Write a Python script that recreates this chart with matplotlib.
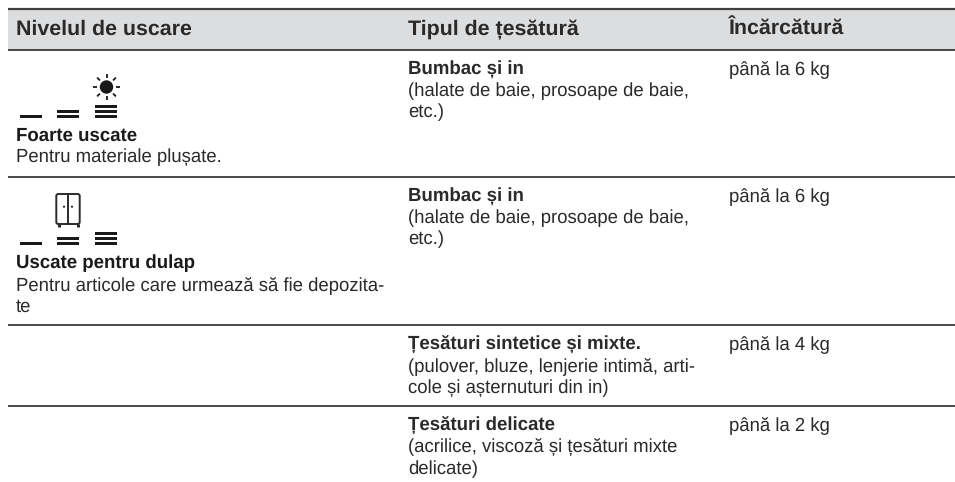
import matplotlib
matplotlib.use("Agg")
import matplotlib.pyplot as plt
from matplotlib.patches import Rectangle, Circle, FancyBboxPatch
import math

plt.rcParams['font.family'] = ['Liberation Sans', 'DejaVu Sans']
plt.rcParams['text.hinting'] = 'none'

headers = ["Nivelul de uscare", "Tipul de țesătură", "Încărcătură"]
level_titles = ["Foarte uscate", "Uscate pentru dulap"]
level_notes = [["Pentru materiale plușate."],
               ["Pentru articole care urmează să fie depozita-", "te"]]
fabric_titles = ["Bumbac și in", "Bumbac și in", "Țesături sintetice și mixte.", "Țesături delicate"]
fabric_notes = [["(halate de baie, prosoape de baie,", "etc.)"],
                ["(halate de baie, prosoape de baie,", "etc.)"],
                ["(pulover, bluze, lenjerie intimă, arti-", "cole și așternuturi din in)"],
                ["(acrilice, viscoză și țesături mixte", "delicate)"]]
loads = ["până la 6 kg", "până la 6 kg", "până la 4 kg", "până la 2 kg"]

row_tops = [49.7, 176.7, 325, 406]
level_baselines = [140.7, 268.3]

dark = "#2b2a29"
black = "#1a1a1a"
pitch = 21.6

fig = plt.figure(figsize=(9.55, 4.82), dpi=100)
ax = fig.add_axes([0, 0, 1, 1])
ax.set_xlim(0, 955)
ax.set_ylim(482, 0)
ax.axis("off")

# header band
ax.add_patch(Rectangle((8, 9), 947, 40.5, color="#dcdddf", lw=0))
ax.plot([8, 955], [9, 9], color="#404040", lw=1.6, solid_capstyle="butt")
for y in row_tops:
    ax.plot([8, 955], [y, y], color=dark, lw=1.2, solid_capstyle="butt")

cols = [16, 408, 729]
for x, h in zip(cols, headers):
    ax.text(x, 35, h, fontsize=15.4, fontweight="bold", va="baseline", color=dark)

for y, t, n, l in zip(row_tops, fabric_titles, fabric_notes, loads):
    ax.text(cols[1], y + 24.4, t, fontsize=13.4, fontweight="bold", va="baseline", color=dark)
    for i, line in enumerate(n):
        ax.text(cols[1], y + 24.4 + pitch * (i + 1), line, fontsize=13.35, va="baseline", color=dark)
    ax.text(cols[2], y + 24.4, l, fontsize=13.35, va="baseline", color=dark)

for t, n, y in zip(level_titles, level_notes, level_baselines):
    ax.text(cols[0], y, t, fontsize=13.4, fontweight="bold", va="baseline", color=black)
    for i, line in enumerate(n):
        ax.text(cols[0], y + pitch * (i + 1), line, fontsize=13.35, va="baseline", color=dark)

# level bars under the icons
def bars(bottom):
    for i, x0 in enumerate([20, 57, 95]):
        for k in range(i + 1):
            ax.add_patch(Rectangle((x0, bottom - k * 5 - 2.7), 22, 2.7, color=black, lw=0))

bars(118)
bars(244.5)

# sun
ax.add_patch(Circle((106.5, 87), 6.7, color=black, lw=0))
for i in range(8):
    a = i * math.pi / 4
    r1, r2 = 9.3, 13.3
    ax.plot([106.5 + r1 * math.cos(a), 106.5 + r2 * math.cos(a)],
            [87 + r1 * math.sin(a), 87 + r2 * math.sin(a)], color=black, lw=1.3, solid_capstyle="butt")

# wardrobe
ax.add_patch(FancyBboxPatch((56.3, 194), 23.4, 30, boxstyle="round,pad=0,rounding_size=2",
                            fc="white", ec=dark, lw=1.4))
ax.plot([68, 68], [194, 224], color=dark, lw=1.4)
ax.add_patch(Circle((64, 206.7), 1.1, color=dark, lw=0))
ax.add_patch(Circle((72, 206.7), 1.1, color=dark, lw=0))
ax.plot([58.5, 58.5], [224, 227], color=dark, lw=2.2, solid_capstyle="butt")
ax.plot([77.5, 77.5], [224, 227], color=dark, lw=2.2, solid_capstyle="butt")

fig.savefig("out.png", dpi=100)
